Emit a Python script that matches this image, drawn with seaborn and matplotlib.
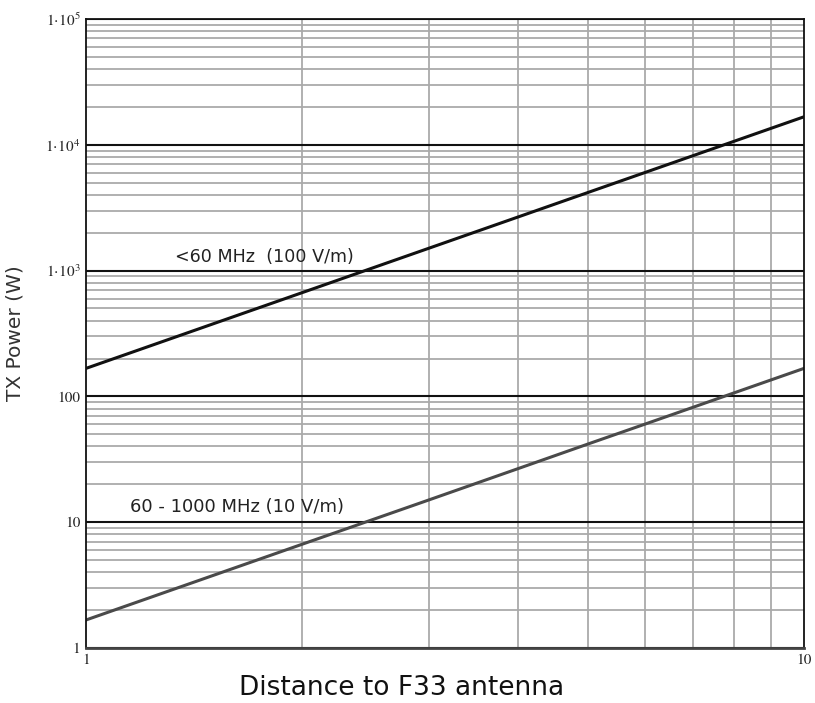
import matplotlib
matplotlib.use('Agg')
import matplotlib.pyplot as plt
import matplotlib.ticker as mticker
import seaborn as sns
import pandas as pd

# distance (x) and TX power values
distance = [1, 2, 3, 4, 5, 6, 7, 8, 9, 10]
power_low_freq = [167, 668, 1503, 2672, 4175, 6012, 8183, 10688, 13527, 16700]   # <60 MHz (100 V/m)
power_high_freq = [1.67, 6.68, 15.0, 26.7, 41.8, 60.1, 81.8, 106.9, 135.3, 167]  # 60 - 1000 MHz (10 V/m)

y_ticks = [1, 10, 100, 1e3, 1e4, 1e5]
y_tick_labels = ['1', '10', '100', r'$1\!\cdot\!10^{3}$', r'$1\!\cdot\!10^{4}$', r'$1\!\cdot\!10^{5}$']
x_ticks = [1, 10]
x_tick_labels = ['1', '10']

df = pd.DataFrame({
    'distance': distance * 2,
    'power': power_low_freq + power_high_freq,
    'band': ['low'] * len(distance) + ['high'] * len(distance),
})

sns.set_style('white')
plt.rcParams['mathtext.fontset'] = 'stix'

fig = plt.figure(figsize=(8.15, 7.03), dpi=100)
ax = fig.add_axes([86 / 815, 55 / 703, 718 / 815, 629 / 703])

ax.set_xscale('log')
ax.set_yscale('log')
ax.set_xlim(1, 10)
ax.set_ylim(1, 1e5)

# grid: gray minor lines, black major horizontal lines
ax.yaxis.set_minor_locator(mticker.LogLocator(base=10, subs=range(2, 10), numticks=20))
ax.xaxis.set_minor_locator(mticker.LogLocator(base=10, subs=range(2, 10), numticks=20))
ax.yaxis.set_minor_formatter(mticker.NullFormatter())
ax.xaxis.set_minor_formatter(mticker.NullFormatter())
ax.grid(which='minor', axis='both', color='#aaaaaa', linewidth=1.3)
ax.grid(which='major', axis='y', color='#111111', linewidth=1.5)
ax.set_axisbelow(True)

sns.lineplot(data=df[df['band'] == 'low'], x='distance', y='power', color='#111111',
             linewidth=2.2, ax=ax, legend=False)
sns.lineplot(data=df[df['band'] == 'high'], x='distance', y='power', color='#4a4a4a',
             linewidth=2.2, ax=ax, legend=False)

ax.set_yticks(y_ticks)
ax.set_yticklabels(y_tick_labels, fontfamily='STIXGeneral', fontsize=11)
ax.set_xticks(x_ticks)
ax.set_xticklabels(x_tick_labels, fontfamily='STIXGeneral', fontsize=11)
ax.tick_params(which='both', length=0, pad=4)
ax.set_xlabel('')
ax.set_ylabel('')

for side in ['left', 'top', 'right']:
    ax.spines[side].set_color('#111111')
    ax.spines[side].set_linewidth(1.3)
ax.spines['bottom'].set_color('#444444')
ax.spines['bottom'].set_linewidth(2)

ax.text(1.33, 1280, '<60 MHz  (100 V/m)', fontsize=12.6, color='#222222', va='center', ha='left')
ax.text(1.15, 13.2, '60 - 1000 MHz (10 V/m)', fontsize=13, color='#222222', va='center', ha='left')

fig.text(15 / 815, 1 - 333 / 703, 'TX Power (W)', rotation=90, fontsize=14.5,
         color='#333333', va='center', ha='center')
fig.text(402 / 815, 1 - 688 / 703, 'Distance to F33 antenna', fontsize=19,
         color='#111111', va='center', ha='center')

fig.savefig('out.png', dpi=100)
